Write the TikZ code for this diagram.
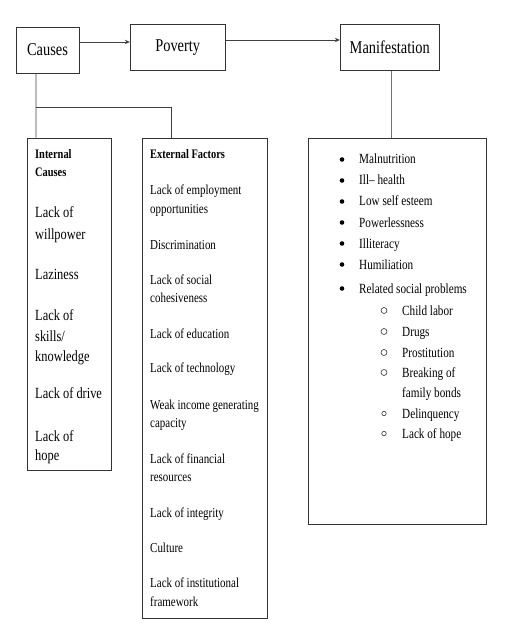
\documentclass[tikz,border=0pt]{standalone}
\usepackage{fontspec}
\setmainfont{Liberation Serif}[FakeStretch=0.8]
\usetikzlibrary{arrows.meta}
\tikzset{
	box/.style={draw=black!80,line width=0.8pt,inner sep=0pt},
	topbox/.style={box,minimum height=46pt,font=\fontsize{18}{20}\selectfont},
	link/.style={draw=black!75,line width=0.8pt},
	head/.style={anchor=base west,inner sep=0pt,font=\fontsize{13}{15}\bfseries\selectfont},
	intxt/.style={anchor=base west,inner sep=0pt,font=\fontsize{15.5}{18}\selectfont},
	extxt/.style={anchor=base west,inner sep=0pt,font=\fontsize{13.7}{16}\selectfont},
	mantxt/.style={anchor=base west,inner sep=0pt,font=\fontsize{14}{16}\selectfont},
	dot/.style={circle,fill=black,inner sep=0pt,minimum size=4.6pt},
	ring/.style={circle,draw=black!80,line width=0.6pt,inner sep=0pt,minimum size=6pt},
	smallring/.style={ring,minimum size=4.4pt},
}
\begin{document}
\begin{tikzpicture}[x=1pt,y=-1pt,>={Stealth[length=5pt,width=4.5pt]}]
	\useasboundingbox (0,0) rectangle (519,636);
	% top row
	\node[topbox,minimum width=63pt] (causes) at (47.5,50) {Causes};
	\node[topbox,minimum width=95pt] (poverty) at (177.7,47.7) {Poverty};
	\node[topbox,minimum width=99pt] (manif) at (389.7,47.7) {Manifestation};
	\draw[link,->] (causes.east |- 0,42) -- (poverty.west |- 0,42);
	\draw[link,->] (poverty.east |- 0,40) -- (manif.west |- 0,40);

	% boxes below
	\node[box,minimum width=84pt,minimum height=332pt] (internal) at (69,304) {};
	\node[box,minimum width=125pt,minimum height=480pt] (external) at (204.5,378) {};
	\node[box,minimum width=178pt,minimum height=386pt] (manbox) at (397,331) {};

	\coordinate (split) at (36,107.7);
	\draw[link] ([xshift=20.5pt]causes.south west) -- (split) -- (split |- internal.north);
	\draw[link] (split) -| ([xshift=30pt]external.north west);
	\draw[link,draw=black!55] ([xshift=2pt]manif.south) -- ([xshift=2pt]manif.south |- manbox.north);

	% internal causes
	\node[head] (inhead1) at (35,159) {Internal};
	\node[head] (inhead2) at (35,177) {Causes};
	\node[intxt] (in1a) at (35,218) {Lack of};
	\node[intxt] (in1b) at (35,239) {willpower};
	\node[intxt] (in2) at (35,279) {Laziness};
	\node[intxt] (in3a) at (35,320) {Lack of};
	\node[intxt] (in3b) at (35,341) {skills/};
	\node[intxt] (in3c) at (35,361) {knowledge};
	\node[intxt] (in4) at (35,398) {Lack of drive};
	\node[intxt] (in5a) at (35,441) {Lack of};
	\node[intxt] (in5b) at (35,460) {hope};

	% external factors
	\node[head] (exhead) at (150,159) {External Factors};
	\node[extxt] (ex1a) at (150,195) {Lack of employment};
	\node[extxt] (ex1b) at (150,213) {opportunities};
	\node[extxt] (ex2) at (150,249.5) {Discrimination};
	\node[extxt] (ex3a) at (150,284.5) {Lack of social};
	\node[extxt] (ex3b) at (150,302.5) {cohesiveness};
	\node[extxt] (ex4) at (150,338.5) {Lack of education};
	\node[extxt] (ex5) at (150,372.5) {Lack of technology};
	\node[extxt] (ex6a) at (150,409.5) {Weak income generating};
	\node[extxt] (ex6b) at (150,427) {capacity};
	\node[extxt] (ex7a) at (150,463.5) {Lack of financial};
	\node[extxt] (ex7b) at (150,481.5) {resources};
	\node[extxt] (ex8) at (150,517.5) {Lack of integrity};
	\node[extxt] (ex9) at (150,552.5) {Culture};
	\node[extxt] (ex10a) at (150,587.5) {Lack of institutional};
	\node[extxt] (ex10b) at (150,606.5) {framework};

	% manifestations
	\node[dot] (d1) at (342,159.5) {};
	\node[mantxt] (m1) at (359,164) {Malnutrition};
	\node[dot] (d2) at (342,180.5) {};
	\node[mantxt] (m2) at (359,185) {Ill-- health};
	\node[dot] (d3) at (342,201.5) {};
	\node[mantxt] (m3) at (359,206) {Low self esteem};
	\node[dot] (d4) at (342,222.5) {};
	\node[mantxt] (m4) at (359,227) {Powerlessness};
	\node[dot] (d5) at (342,243.5) {};
	\node[mantxt] (m5) at (359,248) {Illiteracy};
	\node[dot] (d6) at (342,264.5) {};
	\node[mantxt] (m6) at (359,269) {Humiliation};
	\node[dot] (d7) at (342,288.5) {};
	\node[mantxt] (m7) at (359,293) {Related social problems};
	\node[ring] (r1) at (384,310.5) {};
	\node[mantxt] (s1) at (402,315) {Child labor};
	\node[ring] (r2) at (384,331.5) {};
	\node[mantxt] (s2) at (402,336) {Drugs};
	\node[ring] (r3) at (384,352.5) {};
	\node[mantxt] (s3) at (402,357) {Prostitution};
	\node[ring] (r4) at (384,372.5) {};
	\node[mantxt] (s4a) at (402,377) {Breaking of};
	\node[mantxt] (s4b) at (402,397) {family bonds};
	\node[smallring] (r5) at (384,413.5) {};
	\node[mantxt] (s5) at (402,418) {Delinquency};
	\node[smallring] (r6) at (384,433.5) {};
	\node[mantxt] (s6) at (402,438) {Lack of hope};
\end{tikzpicture}
\end{document}
